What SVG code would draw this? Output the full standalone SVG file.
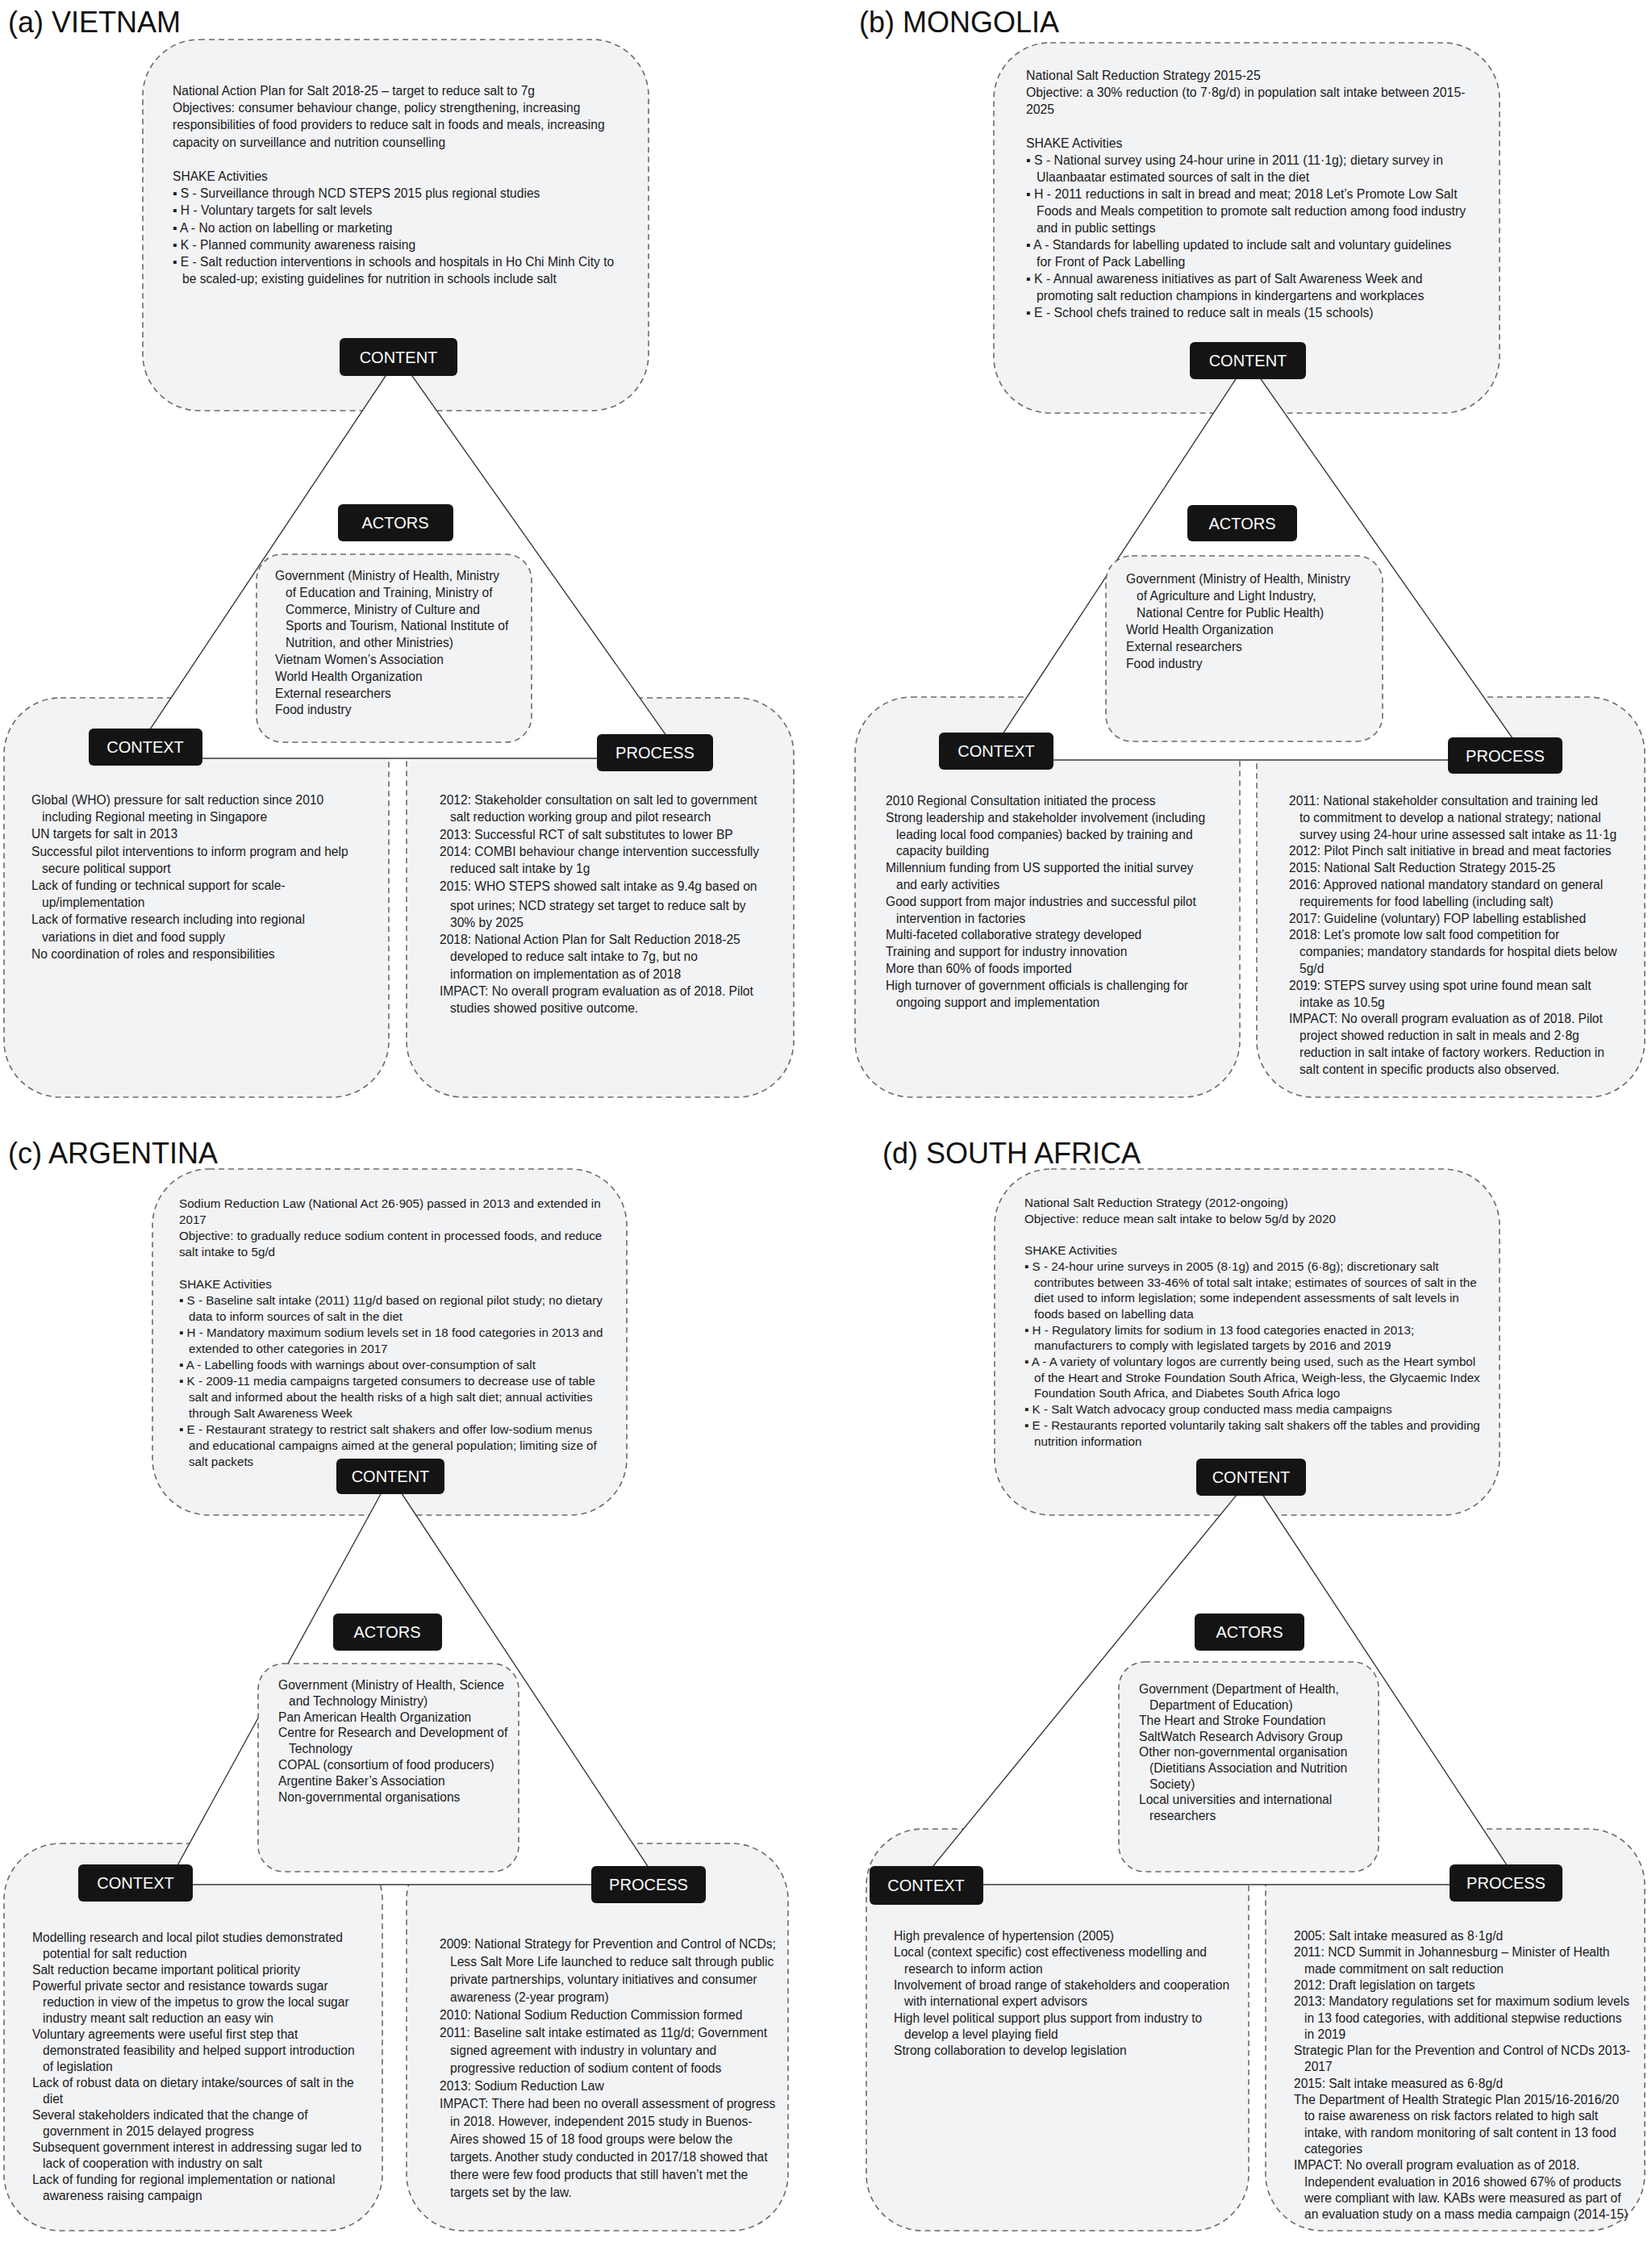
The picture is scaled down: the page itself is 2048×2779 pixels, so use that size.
<svg xmlns="http://www.w3.org/2000/svg" width="2048" height="2779" viewBox="0 0 2048 2779">
<style>
.bg{fill:#fff}
.box{fill:#f2f3f5;stroke:#6b6b6b;stroke-width:1.6;stroke-dasharray:7 5}
.tri{fill:#fff;stroke:#3a3a3a;stroke-width:1.4}
.pill{fill:#141414}
.pl{font-family:"Liberation Sans","DejaVu Sans",sans-serif;font-size:20px;fill:#fff;text-anchor:middle}
.ttl{font-family:"Liberation Sans","DejaVu Sans",sans-serif;font-size:36px;fill:#111}
.t{font-family:"Liberation Sans","DejaVu Sans",sans-serif;font-size:15.6px;fill:#1a1a1a}
.a{font-family:"Liberation Sans","DejaVu Sans",sans-serif;font-size:15.8px;fill:#1a1a1a}
.b{font-family:"Liberation Sans","DejaVu Sans",sans-serif;font-size:15.2px;fill:#1a1a1a}
</style>
<rect class="bg" x="0" y="0" width="2048" height="2779"/>

<!-- ===== (a) VIETNAM ===== -->
<g id="vietnam">
<text class="ttl" x="10" y="40">(a) VIETNAM</text>
<g id="vn-content-box"><rect class="box" x="177" y="49" width="627" height="460" rx="70"/>
<text class="t" transform="translate(214,118)">
<tspan x="0" y="0">National Action Plan for Salt 2018-25 – target to reduce salt to 7g</tspan>
<tspan x="0" dy="21.2">Objectives: consumer behaviour change, policy strengthening, increasing</tspan>
<tspan x="0" dy="21.2">responsibilities of food providers to reduce salt in foods and meals, increasing</tspan>
<tspan x="0" dy="21.2">capacity on surveillance and nutrition counselling</tspan>
<tspan x="0" dy="42.4">SHAKE Activities</tspan>
<tspan x="0" dy="21.2">▪ S - Surveillance through NCD STEPS 2015 plus regional studies</tspan>
<tspan x="0" dy="21.2">▪ H - Voluntary targets for salt levels</tspan>
<tspan x="0" dy="21.2">▪ A - No action on labelling or marketing</tspan>
<tspan x="0" dy="21.2">▪ K - Planned community awareness raising</tspan>
<tspan x="0" dy="21.2">▪ E - Salt reduction interventions in schools and hospitals in Ho Chi Minh City to</tspan>
<tspan x="12" dy="21.2">be scaled-up; existing guidelines for nutrition in schools include salt</tspan>
</text></g>
<g id="vn-context-box"><rect class="box" x="5" y="865" width="477" height="495" rx="70"/></g>
<g id="vn-process-box"><rect class="box" x="504" y="865" width="480" height="495" rx="70"/></g>
<g id="vn-connectors"><polygon class="tri" points="494,442 162,940 846,940"/></g>
<g id="vn-actors-box"><rect class="box" x="318" y="687" width="341" height="233" rx="32"/>
<text class="t" transform="translate(341,719)">
<tspan x="0" y="0">Government (Ministry of Health, Ministry</tspan>
<tspan x="13" dy="20.8">of Education and Training, Ministry of</tspan>
<tspan x="13" dy="20.8">Commerce, Ministry of Culture and</tspan>
<tspan x="13" dy="20.8">Sports and Tourism, National Institute of</tspan>
<tspan x="13" dy="20.8">Nutrition, and other Ministries)</tspan>
<tspan x="0" dy="20.8">Vietnam Women’s Association</tspan>
<tspan x="0" dy="20.8">World Health Organization</tspan>
<tspan x="0" dy="20.8">External researchers</tspan>
<tspan x="0" dy="20.8">Food industry</tspan>
</text></g>
<g id="vn-context-text"><text class="t" transform="translate(39,997)">
<tspan x="0" y="0">Global (WHO) pressure for salt reduction since 2010</tspan>
<tspan x="13" dy="21.2">including Regional meeting in Singapore</tspan>
<tspan x="0" dy="21.2">UN targets for salt in 2013</tspan>
<tspan x="0" dy="21.2">Successful pilot interventions to inform program and help</tspan>
<tspan x="13" dy="21.2">secure political support</tspan>
<tspan x="0" dy="21.2">Lack of funding or technical support for scale-</tspan>
<tspan x="13" dy="21.2">up/implementation</tspan>
<tspan x="0" dy="21.2">Lack of formative research including into regional</tspan>
<tspan x="13" dy="21.2">variations in diet and food supply</tspan>
<tspan x="0" dy="21.2">No coordination of roles and responsibilities</tspan>
</text></g>
<g id="vn-process-text"><text class="t" transform="translate(545,997)">
<tspan x="0" y="0">2012: Stakeholder consultation on salt led to government</tspan>
<tspan x="13" dy="21.3">salt reduction working group and pilot research</tspan>
<tspan x="0" dy="21.3">2013: Successful RCT of salt substitutes to lower BP</tspan>
<tspan x="0" dy="21.3">2014: COMBI behaviour change intervention successfully</tspan>
<tspan x="13" dy="21.3">reduced salt intake by 1g</tspan>
<tspan x="0" dy="21.3">2015: WHO STEPS showed salt intake as 9.4g based on</tspan>
<tspan x="13" dy="24">spot urines; NCD strategy set target to reduce salt by</tspan>
<tspan x="13" dy="21.3">30% by 2025</tspan>
<tspan x="0" dy="21.3">2018: National Action Plan for Salt Reduction 2018-25</tspan>
<tspan x="13" dy="21.3">developed to reduce salt intake to 7g, but no</tspan>
<tspan x="13" dy="21.3">information on implementation as of 2018</tspan>
<tspan x="0" dy="21.3">IMPACT:  No overall program evaluation as of 2018. Pilot</tspan>
<tspan x="13" dy="21.3">studies showed positive outcome.</tspan>
</text></g>
<g id="vn-content"><rect class="pill" x="421" y="419" width="146" height="47" rx="6"/><text class="pl" x="494" y="450">CONTENT</text></g>
<g id="vn-actors"><rect class="pill" x="419" y="625" width="143" height="46" rx="6"/><text class="pl" x="490" y="655">ACTORS</text></g>
<g id="vn-context"><rect class="pill" x="110" y="903" width="141" height="46" rx="6"/><text class="pl" x="180" y="933">CONTEXT</text></g>
<g id="vn-process"><rect class="pill" x="740" y="910" width="144" height="46" rx="6"/><text class="pl" x="812" y="940">PROCESS</text></g>
</g>

<!-- ===== (b) MONGOLIA ===== -->
<g id="mongolia">
<text class="ttl" x="1065" y="40">(b) MONGOLIA</text>
<g id="mn-content-box"><rect class="box" x="1232" y="53" width="627" height="459" rx="70"/>
<text class="a" x="1272" y="99">
<tspan x="1272" y="99">National Salt Reduction Strategy 2015-25</tspan>
<tspan x="1272" dy="21">Objective: a 30% reduction (to 7·8g/d) in population salt intake between 2015-</tspan>
<tspan x="1272" dy="21">2025</tspan>
<tspan x="1272" dy="42">SHAKE Activities</tspan>
<tspan x="1272" dy="21">▪ S - National survey using 24-hour urine in 2011 (11·1g); dietary survey in</tspan>
<tspan x="1285" dy="21">Ulaanbaatar estimated sources of salt in the diet</tspan>
<tspan x="1272" dy="21">▪ H - 2011 reductions in salt in bread and meat; 2018 Let’s Promote Low Salt</tspan>
<tspan x="1285" dy="21">Foods and Meals competition to promote salt reduction among food industry</tspan>
<tspan x="1285" dy="21">and in public settings</tspan>
<tspan x="1272" dy="21">▪ A - Standards for labelling updated to include salt and voluntary guidelines</tspan>
<tspan x="1285" dy="21">for Front of Pack Labelling</tspan>
<tspan x="1272" dy="21">▪ K - Annual awareness initiatives as part of Salt Awareness Week and</tspan>
<tspan x="1285" dy="21">promoting salt reduction champions in kindergartens and workplaces</tspan>
<tspan x="1272" dy="21">▪ E - School chefs trained to reduce salt in meals (15 schools)</tspan>
</text></g>
<g id="mn-context-box"><rect class="box" x="1060" y="864" width="477" height="496" rx="70"/></g>
<g id="mn-process-box"><rect class="box" x="1558" y="864" width="481" height="496" rx="70"/></g>
<g id="mn-connectors"><polygon class="tri" points="1547,447 1222,942 1894,942"/></g>
<g id="mn-actors-box"><rect class="box" x="1371" y="689" width="343" height="230" rx="32"/>
<text class="t" transform="translate(1396,723)">
<tspan x="0" y="0">Government (Ministry of Health, Ministry</tspan>
<tspan x="13" dy="21">of Agriculture and Light Industry,</tspan>
<tspan x="13" dy="21">National Centre for Public Health)</tspan>
<tspan x="0" dy="21">World Health Organization</tspan>
<tspan x="0" dy="21">External researchers</tspan>
<tspan x="0" dy="21">Food industry</tspan>
</text></g>
<g id="mn-context-text"><text class="t" transform="translate(1098,998)">
<tspan x="0" y="0">2010 Regional Consultation initiated the process</tspan>
<tspan x="0" dy="20.8">Strong leadership and stakeholder involvement (including</tspan>
<tspan x="13" dy="20.8">leading local food companies) backed by training and</tspan>
<tspan x="13" dy="20.8">capacity building</tspan>
<tspan x="0" dy="20.8">Millennium funding from US supported the initial survey</tspan>
<tspan x="13" dy="20.8">and early activities</tspan>
<tspan x="0" dy="20.8">Good support from major industries and successful pilot</tspan>
<tspan x="13" dy="20.8">intervention in factories</tspan>
<tspan x="0" dy="20.8">Multi-faceted collaborative strategy developed</tspan>
<tspan x="0" dy="20.8">Training and support for industry innovation</tspan>
<tspan x="0" dy="20.8">More than 60% of foods imported</tspan>
<tspan x="0" dy="20.8">High turnover of government officials is challenging for</tspan>
<tspan x="13" dy="20.8">ongoing support and implementation</tspan>
</text></g>
<g id="mn-process-text"><text class="t" transform="translate(1598,998)">
<tspan x="0" y="0">2011: National stakeholder consultation and training led</tspan>
<tspan x="13" dy="20.8">to commitment to develop a national strategy; national</tspan>
<tspan x="13" dy="20.8">survey using 24-hour urine assessed salt intake as 11·1g</tspan>
<tspan x="0" dy="20.8">2012: Pilot Pinch salt initiative in bread and meat factories</tspan>
<tspan x="0" dy="20.8">2015: National Salt Reduction Strategy 2015-25</tspan>
<tspan x="0" dy="20.8">2016: Approved national mandatory standard on general</tspan>
<tspan x="13" dy="20.8">requirements for food labelling (including salt)</tspan>
<tspan x="0" dy="20.8">2017: Guideline (voluntary) FOP labelling established</tspan>
<tspan x="0" dy="20.8">2018: Let’s promote low salt food competition for</tspan>
<tspan x="13" dy="20.8">companies; mandatory standards for hospital diets below</tspan>
<tspan x="13" dy="20.8">5g/d</tspan>
<tspan x="0" dy="20.8">2019: STEPS survey using spot urine found mean salt</tspan>
<tspan x="13" dy="20.8">intake as 10.5g</tspan>
<tspan x="0" dy="20.8">IMPACT:  No overall program evaluation as of 2018. Pilot</tspan>
<tspan x="13" dy="20.8">project showed reduction in salt in meals and 2·8g</tspan>
<tspan x="13" dy="20.8">reduction in salt intake of factory workers. Reduction in</tspan>
<tspan x="13" dy="20.8">salt content in specific products also observed.</tspan>
</text></g>
<g id="mn-content"><rect class="pill" x="1475" y="424" width="144" height="46" rx="6"/><text class="pl" x="1547" y="454">CONTENT</text></g>
<g id="mn-actors"><rect class="pill" x="1472" y="626" width="136" height="45" rx="6"/><text class="pl" x="1540" y="656">ACTORS</text></g>
<g id="mn-context"><rect class="pill" x="1164" y="908" width="142" height="46" rx="6"/><text class="pl" x="1235" y="938">CONTEXT</text></g>
<g id="mn-process"><rect class="pill" x="1795" y="914" width="142" height="45" rx="6"/><text class="pl" x="1866" y="944">PROCESS</text></g>
</g>

<!-- ===== (c) ARGENTINA ===== -->
<g id="argentina">
<text class="ttl" x="10" y="1442">(c) ARGENTINA</text>
<g id="ar-content-box"><rect class="box" x="189" y="1449" width="588" height="429" rx="70"/>
<text class="b" x="222" y="1497">
<tspan x="222" y="1497">Sodium Reduction Law (National Act 26·905) passed in 2013 and extended in</tspan>
<tspan x="222" dy="20">2017</tspan>
<tspan x="222" dy="20">Objective: to gradually reduce sodium content in processed foods, and reduce</tspan>
<tspan x="222" dy="20">salt intake to 5g/d</tspan>
<tspan x="222" dy="40">SHAKE Activities</tspan>
<tspan x="222" dy="20">▪ S - Baseline salt intake (2011) 11g/d based on regional pilot study; no dietary</tspan>
<tspan x="234" dy="20">data to inform sources of salt in the diet</tspan>
<tspan x="222" dy="20">▪ H - Mandatory maximum sodium levels set in 18 food categories in 2013 and</tspan>
<tspan x="234" dy="20">extended to other categories in 2017</tspan>
<tspan x="222" dy="20">▪ A - Labelling foods with warnings about over-consumption of salt</tspan>
<tspan x="222" dy="20">▪ K - 2009-11 media campaigns targeted consumers to decrease use of table</tspan>
<tspan x="234" dy="20">salt and informed about the health risks of a high salt diet; annual activities</tspan>
<tspan x="234" dy="20">through Salt Awareness Week</tspan>
<tspan x="222" dy="20">▪ E - Restaurant strategy to restrict salt shakers and offer low-sodium menus</tspan>
<tspan x="234" dy="20">and educational campaigns aimed at the general population; limiting size of</tspan>
<tspan x="234" dy="20">salt packets</tspan>
</text></g>
<g id="ar-context-box"><rect class="box" x="5" y="2285" width="469" height="480" rx="70"/></g>
<g id="ar-process-box"><rect class="box" x="504" y="2285" width="473" height="480" rx="70"/></g>
<g id="ar-connectors"><polygon class="tri" points="484,1830 207,2336 818,2336"/></g>
<g id="ar-actors-box"><rect class="box" x="320" y="2062" width="323" height="258" rx="32"/>
<text class="t" transform="translate(345,2094)">
<tspan x="0" y="0">Government (Ministry of Health, Science</tspan>
<tspan x="13" dy="19.8">and Technology Ministry)</tspan>
<tspan x="0" dy="19.8">Pan American Health Organization</tspan>
<tspan x="0" dy="19.8">Centre for Research and Development of</tspan>
<tspan x="13" dy="19.8">Technology</tspan>
<tspan x="0" dy="19.8">COPAL (consortium of food producers)</tspan>
<tspan x="0" dy="19.8">Argentine Baker’s Association</tspan>
<tspan x="0" dy="19.8">Non-governmental organisations</tspan>
</text></g>
<g id="ar-context-text"><text class="t" transform="translate(40,2407)">
<tspan x="0" y="0">Modelling research and local pilot studies demonstrated</tspan>
<tspan x="13" dy="20">potential for salt reduction</tspan>
<tspan x="0" dy="20">Salt reduction became important political priority</tspan>
<tspan x="0" dy="20">Powerful private sector and resistance towards sugar</tspan>
<tspan x="13" dy="20">reduction in view of the impetus to grow the local sugar</tspan>
<tspan x="13" dy="20">industry meant salt reduction an easy win</tspan>
<tspan x="0" dy="20">Voluntary agreements were useful first step that</tspan>
<tspan x="13" dy="20">demonstrated feasibility and helped support introduction</tspan>
<tspan x="13" dy="20">of legislation</tspan>
<tspan x="0" dy="20">Lack of robust data on dietary intake/sources of salt in the</tspan>
<tspan x="13" dy="20">diet</tspan>
<tspan x="0" dy="20">Several stakeholders indicated that the change of</tspan>
<tspan x="13" dy="20">government in 2015 delayed progress</tspan>
<tspan x="0" dy="20">Subsequent government interest in addressing sugar led to</tspan>
<tspan x="13" dy="20">lack of cooperation with industry on salt</tspan>
<tspan x="0" dy="20">Lack of funding for regional implementation or national</tspan>
<tspan x="13" dy="20">awareness raising campaign</tspan>
</text></g>
<g id="ar-process-text"><text class="t" transform="translate(545,2415)">
<tspan x="0" y="0">2009: National Strategy for Prevention and Control of NCDs;</tspan>
<tspan x="13" dy="22">Less Salt More Life launched to reduce salt through public</tspan>
<tspan x="13" dy="22">private partnerships, voluntary initiatives and consumer</tspan>
<tspan x="13" dy="22">awareness (2-year program)</tspan>
<tspan x="0" dy="22">2010: National Sodium Reduction Commission formed</tspan>
<tspan x="0" dy="22">2011: Baseline salt intake estimated as 11g/d; Government</tspan>
<tspan x="13" dy="22">signed agreement with industry in voluntary and</tspan>
<tspan x="13" dy="22">progressive reduction of sodium content of foods</tspan>
<tspan x="0" dy="22">2013: Sodium Reduction Law</tspan>
<tspan x="0" dy="22">IMPACT: There had been no overall assessment of progress</tspan>
<tspan x="13" dy="22">in 2018. However, independent 2015 study in Buenos-</tspan>
<tspan x="13" dy="22">Aires showed 15 of 18 food groups were below the</tspan>
<tspan x="13" dy="22">targets. Another study conducted in 2017/18 showed that</tspan>
<tspan x="13" dy="22">there were few food products that still haven’t met the</tspan>
<tspan x="13" dy="22">targets set by the law.</tspan>
</text></g>
<g id="ar-content"><rect class="pill" x="417" y="1808" width="134" height="44" rx="6"/><text class="pl" x="484" y="1837">CONTENT</text></g>
<g id="ar-actors"><rect class="pill" x="413" y="2000" width="135" height="46" rx="6"/><text class="pl" x="480" y="2030">ACTORS</text></g>
<g id="ar-context"><rect class="pill" x="97" y="2311" width="142" height="46" rx="6"/><text class="pl" x="168" y="2341">CONTEXT</text></g>
<g id="ar-process"><rect class="pill" x="733" y="2313" width="142" height="46" rx="6"/><text class="pl" x="804" y="2343">PROCESS</text></g>
</g>

<!-- ===== (d) SOUTH AFRICA ===== -->
<g id="southafrica">
<text class="ttl" x="1094" y="1442">(d) SOUTH AFRICA</text>
<g id="za-content-box"><rect class="box" x="1233" y="1449" width="626" height="429" rx="70"/>
<text class="b" x="1270" y="1496">
<tspan x="1270" y="1496">National Salt Reduction Strategy (2012-ongoing)</tspan>
<tspan x="1270" dy="19.7">Objective: reduce mean salt intake to below 5g/d by 2020</tspan>
<tspan x="1270" dy="39.4">SHAKE Activities</tspan>
<tspan x="1270" dy="19.7">▪ S - 24-hour urine surveys in 2005 (8·1g) and 2015 (6·8g); discretionary salt</tspan>
<tspan x="1282" dy="19.7">contributes between 33-46% of total salt intake; estimates of sources of salt in the</tspan>
<tspan x="1282" dy="19.7">diet used to inform legislation; some independent assessments of salt levels in</tspan>
<tspan x="1282" dy="19.7">foods based on labelling data</tspan>
<tspan x="1270" dy="19.7">▪ H - Regulatory limits for sodium in 13 food categories enacted in 2013;</tspan>
<tspan x="1282" dy="19.7">manufacturers to comply with legislated targets by 2016 and 2019</tspan>
<tspan x="1270" dy="19.7">▪ A - A variety of voluntary logos are currently being used, such as the Heart symbol</tspan>
<tspan x="1282" dy="19.7">of the Heart and Stroke Foundation South Africa, Weigh-less, the Glycaemic Index</tspan>
<tspan x="1282" dy="19.7">Foundation South Africa, and Diabetes South Africa logo</tspan>
<tspan x="1270" dy="19.7">▪ K - Salt Watch advocacy group conducted mass media campaigns</tspan>
<tspan x="1270" dy="19.7">▪ E - Restaurants reported voluntarily taking salt shakers off the tables and providing</tspan>
<tspan x="1282" dy="19.7">nutrition information</tspan>
</text></g>
<g id="za-context-box"><rect class="box" x="1074" y="2267" width="474" height="498" rx="70"/></g>
<g id="za-process-box"><rect class="box" x="1569" y="2267" width="470" height="498" rx="70"/></g>
<g id="za-connectors"><polygon class="tri" points="1551,1831 1138,2336 1884,2336"/></g>
<g id="za-actors-box"><rect class="box" x="1387" y="2060" width="322" height="260" rx="32"/>
<text class="t" transform="translate(1412,2099)">
<tspan x="0" y="0">Government (Department of Health,</tspan>
<tspan x="13" dy="19.6">Department of Education)</tspan>
<tspan x="0" dy="19.6">The Heart and Stroke Foundation</tspan>
<tspan x="0" dy="19.6">SaltWatch Research Advisory Group</tspan>
<tspan x="0" dy="19.6">Other non-governmental organisation</tspan>
<tspan x="13" dy="19.6">(Dietitians Association and Nutrition</tspan>
<tspan x="13" dy="19.6">Society)</tspan>
<tspan x="0" dy="19.6">Local universities and international</tspan>
<tspan x="13" dy="19.6">researchers</tspan>
</text></g>
<g id="za-context-text"><text class="t" transform="translate(1108,2405)">
<tspan x="0" y="0">High prevalence of hypertension (2005)</tspan>
<tspan x="0" dy="20.3">Local (context specific) cost effectiveness modelling and</tspan>
<tspan x="13" dy="20.3">research to inform action</tspan>
<tspan x="0" dy="20.3">Involvement of broad range of stakeholders and cooperation</tspan>
<tspan x="13" dy="20.3">with international expert advisors</tspan>
<tspan x="0" dy="20.3">High level political support plus support from industry to</tspan>
<tspan x="13" dy="20.3">develop a level playing field</tspan>
<tspan x="0" dy="20.3">Strong collaboration to develop legislation</tspan>
</text></g>
<g id="za-process-text"><text class="t" transform="translate(1604,2405)">
<tspan x="0" y="0">2005: Salt intake measured as 8·1g/d</tspan>
<tspan x="0" dy="20.3">2011: NCD Summit in Johannesburg – Minister of Health</tspan>
<tspan x="13" dy="20.3">made commitment on salt reduction</tspan>
<tspan x="0" dy="20.3">2012: Draft legislation on targets</tspan>
<tspan x="0" dy="20.3">2013: Mandatory regulations set for maximum sodium levels</tspan>
<tspan x="13" dy="20.3">in 13 food categories, with additional stepwise reductions</tspan>
<tspan x="13" dy="20.3">in 2019</tspan>
<tspan x="0" dy="20.3">Strategic Plan for the Prevention and Control of NCDs 2013-</tspan>
<tspan x="13" dy="20.3">2017</tspan>
<tspan x="0" dy="20.3">2015: Salt intake measured as 6·8g/d</tspan>
<tspan x="0" dy="20.3">The Department of Health Strategic Plan 2015/16-2016/20</tspan>
<tspan x="13" dy="20.3">to raise awareness on risk factors related to high salt</tspan>
<tspan x="13" dy="20.3">intake, with random monitoring of salt content in 13 food</tspan>
<tspan x="13" dy="20.3">categories</tspan>
<tspan x="0" dy="20.3">IMPACT: No overall program evaluation as of 2018.</tspan>
<tspan x="13" dy="20.3">Independent evaluation in 2016 showed 67% of products</tspan>
<tspan x="13" dy="20.3">were compliant with law. KABs were measured as part of</tspan>
<tspan x="13" dy="20.3">an evaluation study on a mass media campaign (2014-15)</tspan>
</text></g>
<g id="za-content"><rect class="pill" x="1483" y="1808" width="136" height="46" rx="6"/><text class="pl" x="1551" y="1838">CONTENT</text></g>
<g id="za-actors"><rect class="pill" x="1481" y="2000" width="136" height="46" rx="6"/><text class="pl" x="1549" y="2030">ACTORS</text></g>
<g id="za-context"><rect class="pill" x="1078" y="2313" width="141" height="48" rx="6"/><text class="pl" x="1148" y="2344">CONTEXT</text></g>
<g id="za-process"><rect class="pill" x="1797" y="2311" width="140" height="46" rx="6"/><text class="pl" x="1867" y="2341">PROCESS</text></g>
</g>
</svg>
